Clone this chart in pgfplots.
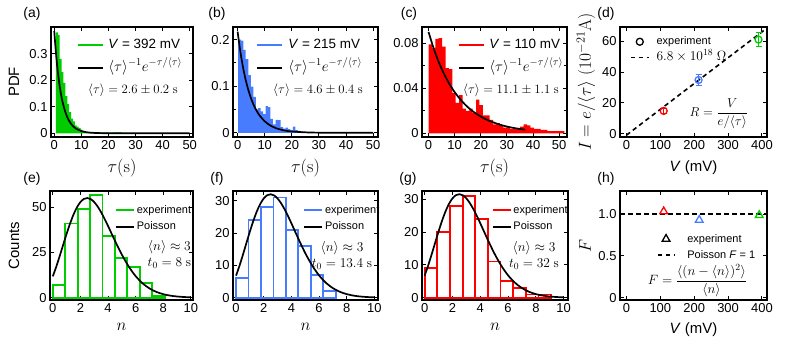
\RequirePackage{fix-cm}
\documentclass[border=0pt]{standalone}
\usepackage[no-math]{fontspec}
\setmainfont{Liberation Sans}
\usepackage{pgfplots}
\pgfplotsset{compat=1.18}
\definecolor{cg}{RGB}{0,204,0}
\definecolor{cb}{RGB}{72,124,255}
\definecolor{cr}{RGB}{255,0,0}
\pgfplotsset{
 common/.style={
  scale only axis, anchor=south west,
  /pgf/number format/assume math mode=true,
  scaled y ticks=false, scaled x ticks=false,
  tick label style={font=\fontsize{13}{15}\selectfont},
  label style={font=\fontsize{15}{17}\selectfont},
  tick align=inside, major tick length=4bp, minor tick length=3bp,
  every tick/.style={black, line width=0.9bp},
  axis line style={line width=1.3bp},
  legend cell align=left,
  legend style={draw=none, fill=none, inner sep=0pt, outer sep=0pt, anchor=west,
     nodes={inner sep=0pt, text height=9bp, text depth=3bp}},
 },
 toprow/.style={common, height=110bp, xtick={0,10,...,50},
   xlabel={$\tau(\mathrm{s})$},
   xlabel style={at={(axis description cs:0.5,-0.282)},anchor=center, font=\fontsize{18}{20}\selectfont},
   legend style={font=\fontsize{13.5}{15}\selectfont, row sep=11.3bp,
     /tikz/every odd column/.append style={column sep=5bp}}},
 botrow/.style={common, height=109bp, xtick={0,2,...,10},
   xlabel={$n$},
   xlabel style={at={(axis description cs:0.5,-0.248)},anchor=center, font=\fontsize{17}{19}\selectfont},
   legend style={font=\fontsize{11}{12}\selectfont, row sep=4.7bp,
     /tikz/every odd column/.append style={column sep=2bp}}},
}
\newcommand{\mf}{\fontsize{12.8}{15}\selectfont}
\newcommand{\mb}{\fontsize{13.5}{15}\selectfont}
\newcommand{\lm}{\fontsize{15}{17}\selectfont}
\begin{document}
\begin{tikzpicture}
\path[use as bounding box] (0,0) rectangle (789bp,343bp);
\node[font=\fontsize{14}{16}\selectfont] at (32bp,329bp) {(a)};
\node[font=\fontsize{14}{16}\selectfont] at (217bp,329bp) {(b)};
\node[font=\fontsize{14}{16}\selectfont] at (409bp,329bp) {(c)};
\node[font=\fontsize{14}{16}\selectfont] at (606bp,329bp) {(d)};
\node[font=\fontsize{14}{16}\selectfont] at (32bp,164bp) {(e)};
\node[font=\fontsize{14}{16}\selectfont] at (217bp,164bp) {(f)};
\node[font=\fontsize{14}{16}\selectfont] at (408bp,164bp) {(g)};
\node[font=\fontsize{14}{16}\selectfont] at (606bp,164bp) {(h)};

% (a)
\begin{axis}[toprow, at={(51bp,206bp)}, width=142bp,
 xmin=-1.2, xmax=51.2, ymin=-0.014, ymax=0.40,
 ytick={0,0.1,0.2,0.3}, yticklabels={0,0.1,0.2,0.3},
 ylabel={PDF}, ylabel style={at={(axis description cs:-0.26,0.5)},anchor=center},
 legend style={at={(axis description cs:0.181,0.730)}}]
\addplot[ybar interval, fill=cg, draw=none, forget plot] coordinates {
(0.6,0.38) (1.3,0.37) (2.0,0.28) (2.7,0.23) (3.4,0.19) (4.1,0.14) (4.8,0.11)
(5.5,0.08) (6.2,0.055) (6.9,0.045) (7.6,0.03) (8.3,0.025) (9.0,0.02) (9.7,0.014)
(10.4,0.01) (11.1,0.006) (11.8,0.004) (12.5,0.003) (14,0.004) (16,0.003) (18,0.003)
(20,0.002) (22,0.003) (25,0)};
\addplot[black, line width=1.7bp, smooth, forget plot] coordinates {
(0,0.385) (0.5,0.318) (1,0.262) (1.5,0.216) (2,0.178) (2.5,0.147) (3,0.121) (4,0.0827)
(5,0.0563) (6,0.0383) (7,0.0261) (8,0.0177) (10,0.0082) (12,0.0038) (15,0.0012)
(20,0.0002) (30,0) (50,0)};
\addlegendimage{legend image code/.code={\draw[cg, line width=1.7bp] (0bp,0bp) -- (25bp,0bp);}}
\addlegendentry{\textit{V} = 392 mV}
\addlegendimage{legend image code/.code={\draw[black, line width=1.7bp] (0bp,0bp) -- (25bp,0bp);}}
\addlegendentry{{\lm$\langle\tau\rangle^{-1}e^{-\tau/\langle\tau\rangle}$}}
\node[font=\mf] at (axis description cs:0.577,0.427) {$\langle\tau\rangle = 2.6\pm0.2\ \mathrm{s}$};
\end{axis}

% (b)
\begin{axis}[toprow, at={(233bp,206bp)}, width=145bp,
 xmin=-1.7, xmax=51.8, ymin=-0.009, ymax=0.227,
 ytick={0,0.1,0.2}, yticklabels={0,0.1,0.2}, minor ytick={0.05,0.15},
 legend style={at={(axis description cs:0.163,0.730)}}]
\addplot[ybar interval, fill=cb, draw=none, forget plot] coordinates {
(0.2,0.200) (1.2,0.198) (2.1,0.178) (3.0,0.158) (4.0,0.124) (4.9,0.099) (5.8,0.077)
(6.7,0.05) (7.6,0.053) (8.5,0.046) (9.4,0.04) (10.3,0.057) (11.2,0.055) (12.1,0.03)
(13.0,0.018) (14.0,0.028) (15.0,0.027) (15.9,0.012) (16.8,0.009) (17.7,0.011)
(18.6,0.008) (19.5,0.006) (20.4,0.013) (21.3,0.006) (22.2,0.004) (23.1,0.003)
(24,0.002) (26,0.001) (30,0)};
\addplot[black, line width=1.7bp, smooth, forget plot] coordinates {
(0,0.217) (1,0.1746) (2,0.1405) (3,0.113) (4,0.0909) (5,0.0732) (6,0.0589) (7,0.0474)
(8,0.0381) (10,0.0247) (12,0.016) (14,0.0103) (16,0.0067) (18,0.0043) (20,0.0028)
(25,0.001) (30,0.0003) (40,0) (50,0)};
\addlegendimage{legend image code/.code={\draw[cb, line width=1.7bp] (0bp,0bp) -- (25bp,0bp);}}
\addlegendentry{\textit{V} = 215 mV}
\addlegendimage{legend image code/.code={\draw[black, line width=1.7bp] (0bp,0bp) -- (25bp,0bp);}}
\addlegendentry{{\lm$\langle\tau\rangle^{-1}e^{-\tau/\langle\tau\rangle}$}}
\node[font=\mf] at (axis description cs:0.586,0.427) {$\langle\tau\rangle = 4.6\pm0.4\ \mathrm{s}$};
\end{axis}

% (c)
\begin{axis}[toprow, at={(422bp,206bp)}, width=145bp,
 xmin=-2.5, xmax=53.0, ymin=-0.0033, ymax=0.0945,
 ytick={0,0.04,0.08}, yticklabels={0,0.04,0.08}, minor ytick={0.02,0.06},
 legend style={at={(axis description cs:0.246,0.730)}}]
\addplot[ybar interval, fill=cr, draw=none, forget plot] coordinates {
(0,0.079) (1.3,0.076) (2.6,0.084) (3.9,0.0845) (5.2,0.077) (6.5,0.058) (7.8,0.057)
(9.1,0.036) (10.4,0.027) (11.7,0.034) (13.0,0.022) (14.3,0.020) (15.6,0.022)
(16.9,0.018) (18.2,0.030) (19.5,0.025) (20.8,0.016) (22.1,0.016) (23.4,0.012)
(24.7,0.008) (26.0,0.009) (27.3,0.007) (28.6,0.005) (29.9,0.006) (31.2,0.004)
(32.5,0.004) (33.8,0.004) (35.1,0.006) (36.4,0.008) (37.7,0.007) (39.0,0.005)
(40.3,0.004) (41.6,0.004) (42.9,0.003) (44.2,0.003) (45.5,0.002) (46.8,0.002)
(48.1,0.002) (49.4,0.002) (50.7,0.002) (52,0)};
\addplot[black, line width=1.7bp, smooth, forget plot] coordinates {
(0,0.0901) (2,0.0752) (4,0.0628) (6,0.0525) (8,0.0438) (10,0.0366) (12,0.0306)
(14,0.0255) (16,0.0213) (18,0.0178) (20,0.0149) (22,0.0124) (24,0.0104) (26,0.0087)
(28,0.0072) (30,0.006) (32,0.005) (34,0.0042) (36,0.0035) (37,0.0032)};
\addlegendimage{legend image code/.code={\draw[cr, line width=1.7bp] (0bp,0bp) -- (25bp,0bp);}}
\addlegendentry{\textit{V} = 110 mV}
\addlegendimage{legend image code/.code={\draw[black, line width=1.7bp] (0bp,0bp) -- (25bp,0bp);}}
\addlegendentry{{\lm$\langle\tau\rangle^{-1}e^{-\tau/\langle\tau\rangle}$}}
\node[font=\mf] at (axis description cs:0.614,0.427) {$\langle\tau\rangle = 11.1\pm1.1\ \mathrm{s}$};
\end{axis}

% (d)
\begin{axis}[common, at={(620bp,206bp)}, width=147bp, height=110bp,
 xmin=-19, xmax=415, ymin=-2.2, ymax=69.4,
 xtick={0,100,...,400}, ytick={0,20,40,60},
 xlabel={\textit{V} (mV)},
 xlabel style={at={(axis description cs:0.5,-0.282)},anchor=center},
 ylabel={$I = e/\langle\tau\rangle\ (10^{-21}\mathrm{A})$},
 ylabel style={at={(axis description cs:-0.231,0.5)},anchor=center, font=\fontsize{17.5}{19}\selectfont},
 legend style={at={(axis description cs:0.068,0.795)}, font=\fontsize{11}{12}\selectfont,
   row sep=3.6bp, /tikz/every odd column/.append style={column sep=7bp}}]
\addplot[black, line width=1.6bp, dash pattern=on 4.5bp off 3.5bp, forget plot] coordinates {(0,-1) (412,68.2)};
\addplot[cr, only marks, mark=o, mark size=3.5bp, line width=1.3bp, forget plot,
  error bars/.cd, y dir=both, y explicit, error bar style={line width=1.1bp},
  error mark options={rotate=90, mark size=3bp, line width=1.1bp}]
  coordinates {(110,14.8) +- (0,1.5)};
\addplot[cb, only marks, mark=o, mark size=3.5bp, line width=1.3bp, forget plot,
  error bars/.cd, y dir=both, y explicit, error bar style={line width=1.1bp},
  error mark options={rotate=90, mark size=3bp, line width=1.1bp}]
  coordinates {(213,34.9) +- (0,3.6)};
\addplot[cg, only marks, mark=o, mark size=3.5bp, line width=1.3bp, forget plot,
  error bars/.cd, y dir=both, y explicit, error bar style={line width=1.1bp},
  error mark options={rotate=90, mark size=3bp, line width=1.1bp}]
  coordinates {(390,61.2) +- (0,4.4)};
\addlegendimage{legend image code/.code={\draw[black, line width=1.3bp] (9bp,0bp) circle (3.5bp);}}
\addlegendentry{experiment}
\addlegendimage{legend image code/.code={\draw[black, line width=1.6bp, dash pattern=on 4.5bp off 3.5bp] (0bp,0bp) -- (18bp,0bp);}}
\addlegendentry{{\fontsize{13.5}{15}\selectfont$6.8\times10^{18}\ \Omega$}}
\node[font=\fontsize{13}{15}\selectfont] at (axis description cs:0.673,0.209) {$R = \displaystyle\frac{V}{e/\langle\tau\rangle}$};
\end{axis}

% (e)
\begin{axis}[botrow, at={(50bp,43bp)}, width=143bp,
 xmin=-0.2, xmax=10.15, ymin=-1.3, ymax=59, ytick={0,25,50},
 ylabel={Counts}, ylabel style={at={(axis description cs:-0.252,0.5)},anchor=center},
 legend style={at={(axis description cs:0.455,0.749)}}]
\addplot[ybar interval, draw=cg, fill=none, line width=1.8bp, forget plot] coordinates {
(0,7) (0.9,41) (1.8,49) (2.7,57) (3.6,34) (4.5,22) (5.4,17) (6.3,8) (7.2,1) (8.1,0)};
\addplot[black, line width=1.7bp, smooth, forget plot] coordinates {
(0,11.75) (0.25,17.06) (0.5,22.97) (0.75,29.14) (1,35.25) (1.25,40.94) (1.5,45.93)
(1.75,49.96) (2,52.87) (2.25,54.59) (2.5,55.11) (2.75,54.50) (3,52.87) (3.25,50.39)
(3.5,47.24) (3.75,43.60) (4,39.66) (4.5,31.49) (5,23.79) (5.5,17.18) (6,11.90)
(6.5,7.93) (7,5.10) (7.5,3.17) (8,1.91) (8.5,1.12) (9,0.64) (9.5,0.35) (10,0.19)};
\addlegendimage{legend image code/.code={\draw[cg, line width=1.8bp] (0bp,0bp) -- (18bp,0bp);}}
\addlegendentry{experiment}
\addlegendimage{legend image code/.code={\draw[black, line width=1.7bp] (0bp,0bp) -- (18bp,0bp);}}
\addlegendentry{Poisson}
\node[font=\mb] at (axis description cs:0.835,0.486) {$\langle n\rangle\approx 3$};
\node[font=\mb] at (axis description cs:0.835,0.335) {$t_0 = 8\ \mathrm{s}$};
\end{axis}

% (f)
\begin{axis}[botrow, at={(233bp,43bp)}, width=145bp,
 xmin=-0.22, xmax=10.26, ymin=-0.7, ymax=33, ytick={0,10,20,30},
 legend style={at={(axis description cs:0.485,0.749)}}]
\addplot[ybar interval, draw=cb, fill=none, line width=1.8bp, forget plot] coordinates {
(0,6) (0.9,24) (1.8,28) (2.7,31) (3.6,21) (4.5,16) (5.4,7) (6.3,2) (7.2,0)};
\addplot[black, line width=1.7bp, smooth, forget plot] coordinates {
(0,6.82) (0.25,9.90) (0.5,13.33) (0.75,16.92) (1,20.46) (1.25,23.77) (1.5,26.66)
(1.75,29.00) (2,30.69) (2.25,31.69) (2.5,31.99) (2.75,31.64) (3,30.69) (3.25,29.25)
(3.5,27.42) (3.75,25.31) (4,23.02) (4.5,18.28) (5,13.81) (5.5,9.97) (6,6.91)
(6.5,4.60) (7,2.96) (7.5,1.84) (8,1.11) (8.5,0.65) (9,0.37) (9.5,0.21) (10,0.11)};
\addlegendimage{legend image code/.code={\draw[cb, line width=1.8bp] (0bp,0bp) -- (18bp,0bp);}}
\addlegendentry{experiment}
\addlegendimage{legend image code/.code={\draw[black, line width=1.7bp] (0bp,0bp) -- (18bp,0bp);}}
\addlegendentry{Poisson}
\node[font=\mb] at (axis description cs:0.752,0.480) {$\langle n\rangle\approx 3$};
\node[font=\mb] at (axis description cs:0.752,0.327) {$t_0 = 13.4\ \mathrm{s}$};
\end{axis}

% (g)
\begin{axis}[botrow, at={(422bp,43bp)}, width=146bp,
 xmin=-0.19, xmax=10.31, ymin=-0.7, ymax=32.5, ytick={0,10,20,30},
 legend style={at={(axis description cs:0.477,0.749)}}]
\addplot[ybar interval, draw=cr, fill=none, line width=1.8bp, forget plot] coordinates {
(0,9) (0.91,20) (1.82,28) (2.73,31) (3.64,24) (4.55,11) (5.46,5) (6.37,3) (7.28,1) (8.19,1) (9.1,0)};
\addplot[black, line width=1.7bp, smooth, forget plot] coordinates {
(0,6.72) (0.25,9.76) (0.5,13.14) (0.75,16.67) (1,20.16) (1.25,23.42) (1.5,26.27)
(1.75,28.58) (2,30.25) (2.25,31.23) (2.5,31.53) (2.75,31.18) (3,30.25) (3.25,28.83)
(3.5,27.02) (3.75,24.94) (4,22.68) (4.5,18.02) (5,13.61) (5.5,9.83) (6,6.81)
(6.5,4.54) (7,2.92) (7.5,1.81) (8,1.09) (8.5,0.64) (9,0.36) (9.5,0.20) (10,0.11)};
\addlegendimage{legend image code/.code={\draw[cr, line width=1.8bp] (0bp,0bp) -- (18bp,0bp);}}
\addlegendentry{experiment}
\addlegendimage{legend image code/.code={\draw[black, line width=1.7bp] (0bp,0bp) -- (18bp,0bp);}}
\addlegendentry{Poisson}
\node[font=\mb] at (axis description cs:0.767,0.480) {$\langle n\rangle\approx 3$};
\node[font=\mb] at (axis description cs:0.767,0.327) {$t_0 = 32\ \mathrm{s}$};
\end{axis}

% (h)
\begin{axis}[common, at={(620bp,43bp)}, width=147bp, height=109bp,
 xmin=-19, xmax=415, ymin=-0.027, ymax=1.275,
 xtick={0,100,...,400}, ytick={0,0.5,1}, yticklabels={0,0.5,1.0},
 xlabel={\textit{V} (mV)},
 xlabel style={at={(axis description cs:0.5,-0.275)},anchor=center},
 ylabel={$F$},
 ylabel style={at={(axis description cs:-0.238,0.5)},anchor=center, font=\fontsize{17}{19}\selectfont},
 legend style={at={(axis description cs:0.250,0.486)}, font=\fontsize{11}{12}\selectfont,
   row sep=4bp, /tikz/every odd column/.append style={column sep=12bp}}]
\addplot[black, line width=1.6bp, dash pattern=on 4.5bp off 3.5bp, forget plot] coordinates {(-19,1) (415,1)};
\addplot[cr, only marks, mark=triangle, mark size=4.5bp, line width=1.3bp, forget plot] coordinates {(110,1.03)};
\addplot[cb, only marks, mark=triangle, mark size=4.5bp, line width=1.3bp, forget plot] coordinates {(215,0.928)};
\addplot[cg, only marks, mark=triangle, mark size=4.5bp, line width=1.3bp, forget plot] coordinates {(392,0.985)};
\addlegendimage{legend image code/.code={\draw[black, line width=1.3bp] (8.5bp,0bp) +(90:4.5bp) -- +(210:4.5bp) -- +(330:4.5bp) -- cycle;}}
\addlegendentry{experiment}
\addlegendimage{legend image code/.code={\draw[black, line width=1.6bp, dash pattern=on 4.5bp off 3.5bp] (0bp,0bp) -- (17bp,0bp);}}
\addlegendentry{Poisson \textit{F} = 1}
\node[font=\fontsize{13.5}{15}\selectfont] at (axis description cs:0.527,0.179) {$F = \displaystyle\frac{\langle (n-\langle n\rangle)^2\rangle}{\langle n\rangle}$};
\end{axis}
\end{tikzpicture}
\end{document}
